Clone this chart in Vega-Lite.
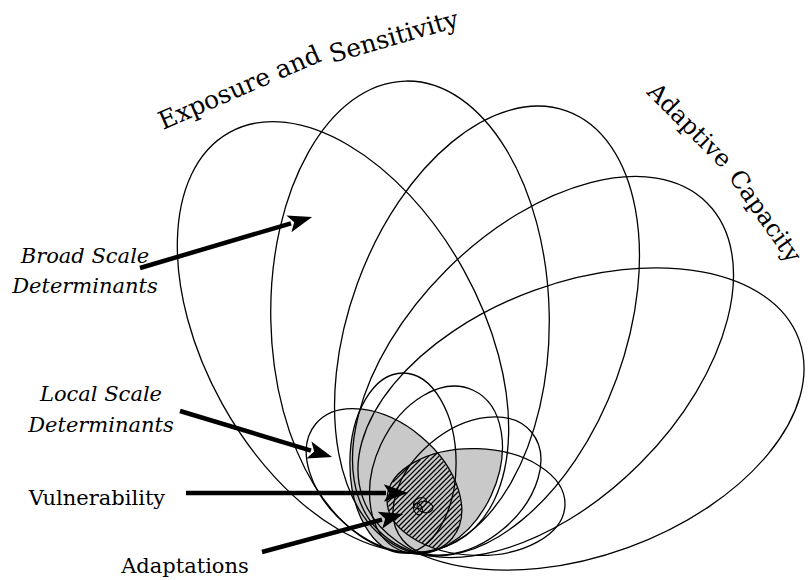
{
  "$schema": "https://vega.github.io/schema/vega-lite/v6.json",
  "width": 809,
  "height": 580,
  "autosize": {"type": "fit", "contains": "padding"},
  "padding": 0,
  "background": "white",
  "config": {"view": {"stroke": null}, "font": "DejaVu Serif"},
  "datasets": {
    "ellipses": [
      {"name": "A", "x": 343, "y": 337, "a": 234, "t": -29, "k": 0.59},
      {"name": "B", "x": 410, "y": 317, "a": 236, "t": -1, "k": 0.59},
      {"name": "C", "x": 487, "y": 331, "a": 234, "t": 20, "k": 0.59},
      {"name": "D", "x": 543, "y": 367, "a": 232, "t": 45, "k": 0.59},
      {"name": "E", "x": 581, "y": 419, "a": 232, "t": 70, "k": 0.59},
      {"name": "s1", "x": 384, "y": 481, "a": 89, "t": -50, "k": 0.65},
      {"name": "s2", "x": 403, "y": 463, "a": 90, "t": 0, "k": 0.59},
      {"name": "s3", "x": 436, "y": 470, "a": 88, "t": 25, "k": 0.69},
      {"name": "s4", "x": 467, "y": 486, "a": 84, "t": 50, "k": 0.67},
      {"name": "s5", "x": 476, "y": 502, "a": 89, "t": 92, "k": 0.6}
    ],
    "tiny": [
      {"x": 420, "y": 503, "a": 7, "t": 60},
      {"x": 425, "y": 507, "a": 8, "t": 100},
      {"x": 418, "y": 509, "a": 6, "t": -20}
    ],
    "region": [{"x": 400, "y": 480}],
    "arrows": [
      {"label": "Broad", "x": 140, "y": 268, "x2": 291, "y2": 223.3, "dir": 73.5},
      {"label": "Local", "x": 180, "y": 411, "x2": 311, "y2": 450.6, "dir": 106.8},
      {"label": "Vulnerability", "x": 186, "y": 493, "x2": 386, "y2": 493, "dir": 90},
      {"label": "Adaptations", "x": 262, "y": 552, "x2": 382, "y2": 519.7, "dir": 74.9}
    ],
    "italic": [
      {"x": 85, "y": 263, "text": "Broad Scale"},
      {"x": 85, "y": 293, "text": "Determinants"},
      {"x": 101, "y": 401, "text": "Local Scale"},
      {"x": 101, "y": 432, "text": "Determinants"}
    ],
    "plain": [
      {"x": 97, "y": 505, "text": "Vulnerability"},
      {"x": 185, "y": 573, "text": "Adaptations"}
    ],
    "t1": [{"x": 163, "y": 130, "text": "Exposure and"}],
    "t2": [{"x": 332, "y": 63, "text": "Sensitivity"}],
    "t3": [{"x": 646, "y": 93, "text": "Adaptive"}],
    "t4": [{"x": 728, "y": 177, "text": "Capacity"}]
  },
  "layer": [
    {
      "data": {"name": "region"},
      "mark": {"type": "point", "filled": true, "color": "#c9c9c9", "opacity": 1, "strokeWidth": 0, "size": 4,
        "shape": "M -39 -71 L -17.9 -66 L 2.3 -56.6 L 21.2 -43.3 L 37.6 -27 L 54.8 -30.4 L 77.9 -31.4 L 100.8 -28.7 L 102.5 -27.5 L 98.8 -5.9 L 91 15.7 L 79.5 35.4 L 65.1 52.1 L 48.6 64.5 L 31.3 71.9 L 14.3 73.7 L 3 73 L -10.7 69.9 L -23.5 60.9 L -34.5 46.6 L -43 28 L -48.3 6.3 L -50.1 -17 L -48.3 -40.3 L -43 -62 Z"},
      "encoding": {
        "x": {"field": "x", "type": "quantitative", "scale": {"domain": [0, 809], "nice": false, "zero": false}, "axis": null},
        "y": {"field": "y", "type": "quantitative", "scale": {"domain": [0, 580], "nice": false, "zero": false, "reverse": true}, "axis": null}
      }
    },
    {
      "data": {"name": "region"},
      "mark": {"type": "point", "filled": false, "color": "black", "opacity": 1, "strokeWidth": 1.3, "size": 4,
        "shape": "M 9 -14 L -7.1 2.2 M 20.5 -20.5 L -10.8 10.8 M 29.1 -24.1 L -12.6 17.6 M 36.8 -26.8 L -12.3 22.3 M 39.4 -24.4 L -11.5 26.5 M 41.5 -21.5 L -10.8 30.7 M 43.5 -18.5 L -9.4 34.4 M 45.6 -15.6 L -7.4 37.4 M 47.6 -12.6 L -5.5 40.5 M 49.7 -9.7 L -3.6 43.6 M 51.4 -6.3 L -1.5 46.5 M 52.9 -2.9 L 1.3 48.7 M 54.4 0.6 L 4 51 M 55.9 4.1 L 6.7 53.3 M 57.4 7.6 L 9.5 55.5 M 58.7 11.3 L 12.3 57.7 M 59.4 15.6 L 15.6 59.4 M 60.1 19.9 L 18.9 61.1 M 60.9 24.1 L 22.2 62.8 M 61.6 28.4 L 25.5 64.5 M 60.9 34.1 L 28.9 66.1 M 60.1 39.9 L 32.5 67.5 M 58.7 46.3 L 36.3 68.7"},
      "encoding": {
        "x": {"field": "x", "type": "quantitative", "scale": {"domain": [0, 809], "nice": false, "zero": false}, "axis": null},
        "y": {"field": "y", "type": "quantitative", "scale": {"domain": [0, 580], "nice": false, "zero": false, "reverse": true}, "axis": null}
      }
    },
    {
      "data": {"name": "ellipses"},
      "mark": {"type": "point", "filled": false, "color": "black", "opacity": 1, "strokeWidth": 1.3},
      "encoding": {
        "x": {"field": "x", "type": "quantitative", "scale": {"domain": [0, 809], "nice": false, "zero": false}, "axis": null},
        "y": {"field": "y", "type": "quantitative", "scale": {"domain": [0, 580], "nice": false, "zero": false, "reverse": true}, "axis": null},
        "size": {"field": "a", "type": "quantitative", "scale": {"type": "pow", "exponent": 2, "domain": [0, 250], "range": [0, 250000], "zero": true}, "legend": null},
        "angle": {"field": "t", "type": "quantitative", "scale": null},
        "shape": {"field": "k", "type": "nominal", "legend": null, "scale": {
          "domain": [0.59, 0.6, 0.65, 0.67, 0.69],
          "range": [
            "M 0 -1 C 0.3259 -1 0.59 -0.5523 0.59 0 C 0.59 0.5523 0.3259 1 0 1 C -0.3259 1 -0.59 0.5523 -0.59 0 C -0.59 -0.5523 -0.3259 -1 0 -1 Z",
            "M 0 -1 C 0.3314 -1 0.6 -0.5523 0.6 0 C 0.6 0.5523 0.3314 1 0 1 C -0.3314 1 -0.6 0.5523 -0.6 0 C -0.6 -0.5523 -0.3314 -1 0 -1 Z",
            "M 0 -1 C 0.359 -1 0.65 -0.5523 0.65 0 C 0.65 0.5523 0.359 1 0 1 C -0.359 1 -0.65 0.5523 -0.65 0 C -0.65 -0.5523 -0.359 -1 0 -1 Z",
            "M 0 -1 C 0.37 -1 0.67 -0.5523 0.67 0 C 0.67 0.5523 0.37 1 0 1 C -0.37 1 -0.67 0.5523 -0.67 0 C -0.67 -0.5523 -0.37 -1 0 -1 Z",
            "M 0 -1 C 0.3811 -1 0.69 -0.5523 0.69 0 C 0.69 0.5523 0.3811 1 0 1 C -0.3811 1 -0.69 0.5523 -0.69 0 C -0.69 -0.5523 -0.3811 -1 0 -1 Z"
          ]}}
      }
    },
    {
      "data": {"name": "tiny"},
      "mark": {"type": "point", "filled": false, "color": "black", "opacity": 1, "strokeWidth": 1.1,
        "shape": "M 0 -1 C 0.3866 -1 0.7 -0.5523 0.7 0 C 0.7 0.5523 0.3866 1 0 1 C -0.3866 1 -0.7 0.5523 -0.7 0 C -0.7 -0.5523 -0.3866 -1 0 -1 Z"},
      "encoding": {
        "x": {"field": "x", "type": "quantitative", "scale": {"domain": [0, 809], "nice": false, "zero": false}, "axis": null},
        "y": {"field": "y", "type": "quantitative", "scale": {"domain": [0, 580], "nice": false, "zero": false, "reverse": true}, "axis": null},
        "size": {"field": "a", "type": "quantitative", "scale": {"type": "pow", "exponent": 2, "domain": [0, 250], "range": [0, 250000], "zero": true}, "legend": null},
        "angle": {"field": "t", "type": "quantitative", "scale": null}
      }
    },
    {
      "data": {"name": "arrows"},
      "mark": {"type": "rule", "color": "black", "strokeWidth": 4.5},
      "encoding": {
        "x": {"field": "x", "type": "quantitative", "scale": {"domain": [0, 809], "nice": false, "zero": false}, "axis": null},
        "y": {"field": "y", "type": "quantitative", "scale": {"domain": [0, 580], "nice": false, "zero": false, "reverse": true}, "axis": null},
        "x2": {"field": "x2"},
        "y2": {"field": "y2"}
      }
    },
    {
      "data": {"name": "arrows"},
      "mark": {"type": "point", "filled": true, "color": "black", "opacity": 1, "strokeWidth": 0, "size": 484,
        "shape": "M 0 -2 L 0.8 0.2 L 0 -0.3 L -0.8 0.2 Z"},
      "encoding": {
        "x": {"field": "x2", "type": "quantitative", "scale": {"domain": [0, 809], "nice": false, "zero": false}, "axis": null},
        "y": {"field": "y2", "type": "quantitative", "scale": {"domain": [0, 580], "nice": false, "zero": false, "reverse": true}, "axis": null},
        "angle": {"field": "dir", "type": "quantitative", "scale": null}
      }
    },
    {
      "data": {"name": "italic"},
      "mark": {"type": "text", "font": "DejaVu Serif", "fontStyle": "italic", "fontSize": 21, "align": "center", "baseline": "alphabetic", "color": "black"},
      "encoding": {
        "x": {"field": "x", "type": "quantitative", "scale": {"domain": [0, 809], "nice": false, "zero": false}, "axis": null},
        "y": {"field": "y", "type": "quantitative", "scale": {"domain": [0, 580], "nice": false, "zero": false, "reverse": true}, "axis": null},
        "text": {"field": "text"}
      }
    },
    {
      "data": {"name": "plain"},
      "mark": {"type": "text", "font": "DejaVu Serif", "fontSize": 21, "align": "center", "baseline": "alphabetic", "color": "black"},
      "encoding": {
        "x": {"field": "x", "type": "quantitative", "scale": {"domain": [0, 809], "nice": false, "zero": false}, "axis": null},
        "y": {"field": "y", "type": "quantitative", "scale": {"domain": [0, 580], "nice": false, "zero": false, "reverse": true}, "axis": null},
        "text": {"field": "text"}
      }
    },
    {
      "data": {"name": "t1"},
      "mark": {"type": "text", "font": "DejaVu Serif", "fontSize": 25, "align": "left", "baseline": "alphabetic", "angle": -23.5, "color": "black"},
      "encoding": {
        "x": {"field": "x", "type": "quantitative", "scale": {"domain": [0, 809], "nice": false, "zero": false}, "axis": null},
        "y": {"field": "y", "type": "quantitative", "scale": {"domain": [0, 580], "nice": false, "zero": false, "reverse": true}, "axis": null},
        "text": {"field": "text"}
      }
    },
    {
      "data": {"name": "t2"},
      "mark": {"type": "text", "font": "DejaVu Serif", "fontSize": 25, "align": "left", "baseline": "alphabetic", "angle": -16, "color": "black"},
      "encoding": {
        "x": {"field": "x", "type": "quantitative", "scale": {"domain": [0, 809], "nice": false, "zero": false}, "axis": null},
        "y": {"field": "y", "type": "quantitative", "scale": {"domain": [0, 580], "nice": false, "zero": false, "reverse": true}, "axis": null},
        "text": {"field": "text"}
      }
    },
    {
      "data": {"name": "t3"},
      "mark": {"type": "text", "font": "DejaVu Serif", "fontSize": 24, "align": "left", "baseline": "alphabetic", "angle": 45, "color": "black"},
      "encoding": {
        "x": {"field": "x", "type": "quantitative", "scale": {"domain": [0, 809], "nice": false, "zero": false}, "axis": null},
        "y": {"field": "y", "type": "quantitative", "scale": {"domain": [0, 580], "nice": false, "zero": false, "reverse": true}, "axis": null},
        "text": {"field": "text"}
      }
    },
    {
      "data": {"name": "t4"},
      "mark": {"type": "text", "font": "DejaVu Serif", "fontSize": 24, "align": "left", "baseline": "alphabetic", "angle": 55, "color": "black"},
      "encoding": {
        "x": {"field": "x", "type": "quantitative", "scale": {"domain": [0, 809], "nice": false, "zero": false}, "axis": null},
        "y": {"field": "y", "type": "quantitative", "scale": {"domain": [0, 580], "nice": false, "zero": false, "reverse": true}, "axis": null},
        "text": {"field": "text"}
      }
    }
  ]
}
